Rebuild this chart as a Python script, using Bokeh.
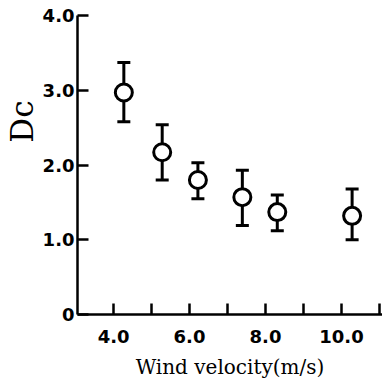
from bokeh.plotting import figure
from bokeh.models import Range1d, FixedTicker, Title
from bokeh.embed import file_html
from bokeh.resources import INLINE

# Data
wind = [4.27, 5.28, 6.22, 7.39, 8.31, 10.28]
dc = [2.97, 2.17, 1.80, 1.57, 1.37, 1.32]
dc_upper = [3.37, 2.54, 2.03, 1.93, 1.60, 1.68]
dc_lower = [2.58, 1.80, 1.55, 1.19, 1.12, 1.00]

x_ticks = [4, 5, 6, 7, 8, 9, 10, 11]
x_tick_labels = {4: "4.0", 5: "", 6: "6.0", 7: "", 8: "8.0", 9: "", 10: "10.0", 11: ""}
y_ticks = [0, 1, 2, 3, 4]
y_tick_labels = {0: "0", 1: "1.0", 2: "2.0", 3: "3.0", 4: "4.0"}

p = figure(width=382, height=384, output_backend="svg", toolbar_location=None,
           x_range=Range1d(3.05, 11.08), y_range=Range1d(0, 4.0))
p.min_border_left = 77
p.min_border_right = 0
p.min_border_top = 15
p.min_border_bottom = 70
p.outline_line_color = None
p.xgrid.visible = False
p.ygrid.visible = False
p.background_fill_color = "white"
p.border_fill_color = "white"

for ax in (p.xaxis[0], p.yaxis[0]):
    ax.axis_line_width = 2.5
    ax.axis_line_color = "black"
    ax.major_tick_line_width = 2.5
    ax.major_tick_line_color = "black"
    ax.major_tick_in = 11
    ax.major_tick_out = 0
    ax.minor_tick_line_color = None
    ax.major_label_text_font = "DejaVu Sans"
    ax.major_label_text_font_style = "bold"
    ax.major_label_text_font_size = "18px"
    ax.major_label_text_color = "black"

p.xaxis.ticker = FixedTicker(ticks=x_ticks)
p.xaxis.major_label_overrides = x_tick_labels
p.xaxis.major_label_standoff = 15
p.xaxis.axis_label = "Wind velocity(m/s)"
p.xaxis.axis_label_text_font = "DejaVu Serif"
p.xaxis.axis_label_text_font_style = "normal"
p.xaxis.axis_label_text_font_size = "20px"
p.xaxis.axis_label_text_color = "black"
p.xaxis.axis_label_standoff = 9

p.yaxis.ticker = FixedTicker(ticks=y_ticks)
p.yaxis.major_label_overrides = y_tick_labels
p.yaxis.major_label_standoff = 3

# Error bars
p.segment(x0=wind, y0=dc_lower, x1=wind, y1=dc_upper, line_color="black", line_width=3)
p.scatter(x=wind, y=dc_upper, marker="dash", size=13, line_color="black", line_width=3)
p.scatter(x=wind, y=dc_lower, marker="dash", size=13, line_color="black", line_width=3)
# Points
p.scatter(x=wind, y=dc, marker="circle", size=17, fill_color="white",
          line_color="black", line_width=3)

# Y axis label "Dc" placed in the left panel
ylab = Title(text="Dc", align="right", offset=85, standoff=0,
             text_font="DejaVu Serif", text_font_style="normal",
             text_font_size="31px", text_color="black")
p.add_layout(ylab, "left")

open("out.html", "w").write(file_html(p, INLINE))
